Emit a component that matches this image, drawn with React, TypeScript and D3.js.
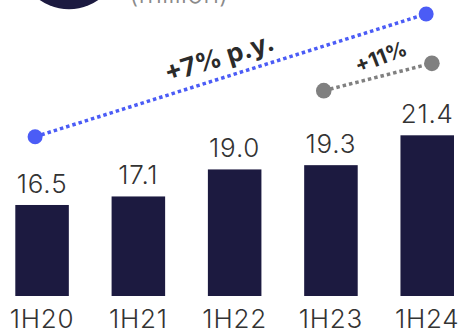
import React from "react";
import * as d3 from "d3";

const categories = ["1H20", "1H21", "1H22", "1H23", "1H24"];
const values = [16.5, 17.1, 19.0, 19.3, 21.4];
const valueLabels = ["16.5", "17.1", "19.0", "19.3", "21.4"];

// annotation trend lines (category, position within band, level on value scale)
const blueTrendCats = ["1H20", "1H24"];
const blueTrendPos = [0.37, 0.48];
const blueTrendLevels = [21.3, 29.93];
const blueTrendLabel = "+7% p.y.";

const greyTrendCats = ["1H23", "1H24"];
const greyTrendPos = [0.366, 0.587];
const greyTrendLevels = [24.54, 26.46];
const greyTrendLabel = "+11%";

const W = 461;
const H = 332;
const FONT = "Inter, 'Open Sans', sans-serif";

export default function App() {
  const x = d3
    .scaleBand<string>()
    .domain(categories)
    .range([15.3, 454])
    .paddingInner(0.444)
    .paddingOuter(0);
  const y = d3.scaleLinear().domain([10.1, 21.4]).range([296, 135.3]);
  const bw = x.bandwidth();

  const bluePts = blueTrendCats.map((c, i) => [
    (x(c) as number) + bw * blueTrendPos[i],
    y(blueTrendLevels[i]),
  ]);
  const greyPts = greyTrendCats.map((c, i) => [
    (x(c) as number) + bw * greyTrendPos[i],
    y(greyTrendLevels[i]),
  ]);
  const line = d3.line();

  return (
    <svg
      width={W}
      height={H}
      style={{ position: "absolute", left: 0, top: 0, display: "block" }}
    >
      <rect width={W} height={H} fill="#ffffff" />
      {/* header remnants */}
      <circle cx={69} cy={-42} r={51.2} fill="#1c1a40" />
      <text
        x={129}
        y={3}
        fontFamily={FONT}
        fontWeight={300}
        fontSize={27}
        fill="#8a8a8a"
      >
        (million)
      </text>

      {/* bars */}
      {categories.map((c, i) => (
        <rect
          key={c}
          x={x(c)}
          y={y(values[i])}
          width={bw}
          height={y(10.1) - y(values[i])}
          fill="#1c1a40"
        />
      ))}
      {/* value labels */}
      {categories.map((c, i) => (
        <text
          key={"v" + c}
          x={(x(c) as number) + bw / 2}
          y={y(values[i]) - 12}
          textAnchor="middle"
          fontFamily={FONT}
          fontWeight={300}
          fontSize={26}
          letterSpacing={0.8}
          fill="#333333"
        >
          {valueLabels[i]}
        </text>
      ))}
      {/* category labels */}
      {categories.map((c) => (
        <text
          key={"c" + c}
          x={(x(c) as number) + bw / 2}
          y={327.5}
          textAnchor="middle"
          fontFamily={FONT}
          fontWeight={300}
          fontSize={26}
          letterSpacing={0.8}
          fill="#333333"
        >
          {c}
        </text>
      ))}

      {/* blue trend */}
      <path
        d={line(bluePts as [number, number][]) || ""}
        stroke="#4b5cf6"
        strokeWidth={3.5}
        strokeDasharray="3.5 3"
        fill="none"
      />
      {bluePts.map((p, i) => (
        <circle key={"b" + i} cx={p[0]} cy={p[1]} r={7.5} fill="#4b5cf6" />
      ))}
      <text
        x={219}
        y={57}
        transform={`rotate(-17 219 57)`}
        textAnchor="middle"
        dominantBaseline="central"
        fontFamily={FONT}
        fontWeight={700}
        fontSize={26}
        fill="#2b2b2b"
      >
        {blueTrendLabel}
      </text>

      {/* grey trend */}
      <path
        d={line(greyPts as [number, number][]) || ""}
        stroke="#808080"
        strokeWidth={3.5}
        strokeDasharray="3.5 3"
        fill="none"
      />
      {greyPts.map((p, i) => (
        <circle key={"g" + i} cx={p[0]} cy={p[1]} r={7.8} fill="#808080" />
      ))}
      <text
        x={381}
        y={57}
        transform={`rotate(-21 381 57)`}
        textAnchor="middle"
        dominantBaseline="central"
        fontFamily={FONT}
        fontWeight={700}
        fontSize={21}
        fill="#2b2b2b"
      >
        {greyTrendLabel}
      </text>
    </svg>
  );
}
